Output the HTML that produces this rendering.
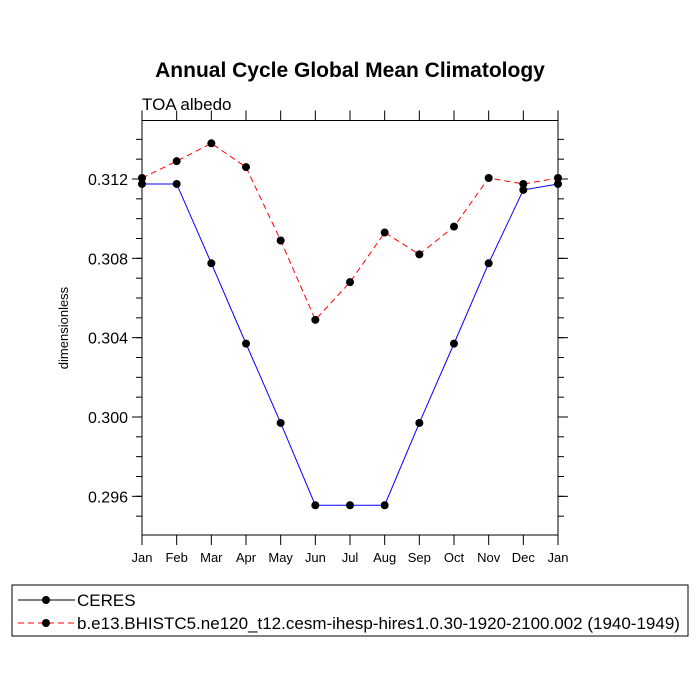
<!DOCTYPE html>
<html><head><meta charset="utf-8"><style>
body{margin:0;background:#fff}
svg{display:block;font-family:"Liberation Sans",sans-serif}
</style></head><body>
<svg id="chart" width="700" height="700" viewBox="0 0 700 700">
<rect width="700" height="700" fill="#fff"/>
<text x="350" y="77" text-anchor="middle" font-size="21" font-weight="bold">Annual Cycle Global Mean Climatology</text>
<text x="142" y="110" font-size="17">TOA albedo</text>
<text transform="translate(68,328) rotate(-90)" text-anchor="middle" font-size="13">dimensionless</text>
<g id="axes"></g>
<g id="series"></g>
<g>
<rect x="12" y="585" width="676" height="51" fill="none" stroke="#000" stroke-width="1"/>
<line x1="18" y1="600" x2="75" y2="600" stroke="#000" stroke-width="1"/>
<circle cx="46" cy="600" r="4" fill="#000"/>
<text x="77" y="606" font-size="17">CERES</text>
<line x1="18" y1="623" x2="75" y2="623" stroke="red" stroke-width="1" stroke-dasharray="6,4"/>
<circle cx="46" cy="623" r="4" fill="#000"/>
<text x="77" y="629" font-size="17">b.e13.BHISTC5.ne120_t12.cesm-ihesp-hires1.0.30-1920-2100.002 (1940-1949)</text>
</g>
</svg>
<script>
const months=["Jan","Feb","Mar","Apr","May","Jun","Jul","Aug","Sep","Oct","Nov","Dec","Jan"];
const ceres=[0.31175,0.31175,0.30775,0.3037,0.2997,0.29555,0.29555,0.29555,0.2997,0.3037,0.30775,0.31145,0.31175];
const model=[0.31205,0.3129,0.3138,0.3126,0.3089,0.3049,0.3068,0.3093,0.3082,0.3096,0.31205,0.31175,0.31205];
const yTicks=[0.296,0.300,0.304,0.308,0.312];
const yTickLabels=["0.296","0.300","0.304","0.308","0.312"];
const L=142,R=558,T=120.5,B=535,yMin=0.29405,yMax=0.31495;
const NS="http://www.w3.org/2000/svg";
function xs(i){return L+(R-L)*i/(months.length-1);}
function ys(v){return B-(v-yMin)/(yMax-yMin)*(B-T);}
function mk(tag,attrs,parent){const e=document.createElementNS(NS,tag);for(const k in attrs)e.setAttribute(k,attrs[k]);parent.appendChild(e);return e;}
const ax=document.getElementById('axes');
const frame=mk('rect',{x:L,y:T,width:R-L,height:B-T,fill:'none',stroke:'#000','stroke-width':1},ax);


months.forEach((m,i)=>{
  const x=xs(i);
  mk('line',{x1:x,y1:B,x2:x,y2:B+10,stroke:'#000'},ax);
  mk('line',{x1:x,y1:T,x2:x,y2:T-10,stroke:'#000'},ax);
  const t=mk('text',{x:x,y:B+27,'text-anchor':'middle','font-size':13},ax);
  t.textContent=m;
  
  
});
for(let v=0.295;v<=0.3145;v+=0.001){
  const y=ys(v);
  mk('line',{x1:L,y1:y,x2:L-6,y2:y,stroke:'#000'},ax);
  mk('line',{x1:R,y1:y,x2:R+6,y2:y,stroke:'#000'},ax);
}
yTicks.forEach((v,i)=>{
  const y=ys(v);
  mk('line',{x1:L,y1:y,x2:L-10,y2:y,stroke:'#000'},ax);
  mk('line',{x1:R,y1:y,x2:R+10,y2:y,stroke:'#000'},ax);
  const t=mk('text',{x:L-14,y:y+6,'text-anchor':'end','font-size':16},ax);
  t.textContent=yTickLabels[i];
  
  
});
const sg=document.getElementById('series');
function draw(vals,color,dash,name){
  const p=mk('polyline',{points:vals.map((v,i)=>xs(i)+','+ys(v)).join(' '),fill:'none',stroke:color,'stroke-width':1,'stroke-dasharray':dash},sg);
  
  
  vals.forEach((v,i)=>{
    const c=mk('circle',{cx:xs(i),cy:ys(v),r:4,fill:'#000'},sg);
    
    
  });
}
draw(model,'red','6,4','model');
draw(ceres,'blue','none','ceres');
</script>
</body></html>
